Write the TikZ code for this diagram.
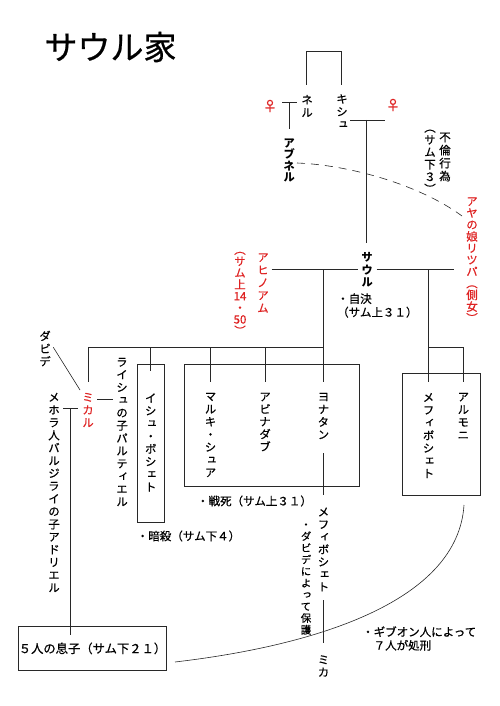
\documentclass[tikz,border=0pt]{standalone}
\usepackage{fontspec}
\newfontfamily\jp[FakeBold=0.6]{Noto Sans CJK JP}
\newfontfamily\jpv[RawFeature=+vert, FakeBold=0.6]{Noto Sans CJK JP}
\newfontfamily\jpvplain[RawFeature=+vert]{Noto Sans CJK JP}
\definecolor{kinred}{RGB}{222,34,34}
\definecolor{kinline}{RGB}{40,40,40}

\begin{document}
\begin{tikzpicture}[
        x=1pt, y=-1pt,
        vcol/.style={
            font=\jpv\fontsize{11.5}{#1}\selectfont,
            align=center,
            inner sep=0pt
        },
        vcol/.default=12.7,
        vbold/.style={
            vcol,
            font=\jpvplain\bfseries\fontsize{11.5}{#1}\selectfont
        },
        vbold/.default=12.5,
        wife/.style={text=kinred},
        note/.style={
            font=\jp\fontsize{11.5}{13.5}\selectfont,
            inner sep=0pt
        },
        venus/.style={
            font=\jp\fontsize{14}{14}\selectfont,
            text=kinred,
            inner sep=0pt
        },
        kin/.style={draw=kinline, line width=0.6pt},
        affair/.style={kin, dash pattern=on 8pt off 6pt}
    ]
    \useasboundingbox (0,0) rectangle (500,706);

    \node[font=\jp\fontsize{33}{33}\selectfont, inner sep=0pt] (title) at (110.5,47) {サウル家};

    % Saul's parents
    \node[vcol] (nel) at (307,106) {ネ\\ル};
    \node[vcol] (kish) at (342,111.5) {キ\\シ\\ュ};
    \node[venus] (wifeNel) at (270,106) {♀};
    \node[venus] (wifeKish) at (393,105) {♀};
    \node[vbold=11.3] (abner) at (289,160.5) {ア\\ブ\\ネ\\ル};
    \node[vbold] (saul) at (367,270) {サ\\ウ\\ル};

    \coordinate (gpL) at (306,85);
    \coordinate (gpR) at (341,85);
    \draw[kin] (gpL) -- ++(0,-34) -| (gpR);

    \coordinate (nelL) at (282,102.7);
    \coordinate (nelR) at (297,102.7);
    \coordinate (abnerTop) at (289.3,129.3);
    \draw[kin] (nelL) -- (nelR);
    \draw[kin] (abnerTop |- nelL) -- (abnerTop);

    \coordinate (kishL) at (350,120);
    \coordinate (kishR) at (385,120);
    \coordinate (saulTop) at (366.7,243);
    \draw[kin] (kishL) -- (kishR);
    \draw[kin, line width=1.1pt] (saulTop |- kishL) -- (saulTop);

    % Abner and Rizpah
    \coordinate (affairA) at (297,163);
    \coordinate (affairB) at (462,216);
    \draw[affair] (affairA) .. controls (350,165) and (420,185) .. (affairB);
    \node[vcol=13] (adultery) at (445,157) {不\\倫\\行\\為};
    \node[vcol=12.3] (adulteryRef) at (430,161.5) {（\\サ\\ム\\下\\３\\）};

    % Saul's wives
    \node[vcol, wife] (ahinoam) at (263,283) {ア\\ヒ\\ノ\\ア\\ム};
    \node[vcol=11.6, wife] (ahinoamRef) at (240,293.5) {（\\サ\\ム\\上\\14\\・\\50\\）};
    \node[vcol=11.7, wife] (rizpah) at (472,260) {ア\\ヤ\\の\\娘\\リ\\ツ\\パ\\（\\側\\女\\）};

    \coordinate (ahiEnd) at (271.7,269.3);
    \coordinate (saulGapL) at (358,269.3);
    \coordinate (saulGapR) at (376.7,269.3);
    \coordinate (rizEnd) at (454,269.3);
    \draw[kin] (ahiEnd) -- (saulGapL);
    \draw[kin] (saulGapR) -- (rizEnd);

    \node[note, align=left, anchor=west] (suicide) at (337,305.5) {・自決\\（サム上３１）};

    % children of Ahinoam
    \node[vcol, wife] (michal) at (88,410) {ミ\\カ\\ル};
    \node[vcol] (david) at (45,348.5) {ダ\\ビ\\デ};
    \node[vcol] (paltiel) at (122,432) {ラ\\イ\\シ\\ュ\\の\\子\\パ\\ル\\テ\\ィ\\エ\\ル};
    \node[vcol] (adriel) at (54,492.5) {メ\\ホ\\ラ\\人\\バ\\ル\\ジ\\ラ\\イ\\の\\子\\ア\\ド\\リ\\エ\\ル};
    \node[vcol] (ishbosheth) at (150.7,442.5) {イ\\シ\\ュ\\・\\ボ\\シ\\ェ\\ト};
    \node[vcol] (malchishua) at (210.5,435) {マ\\ル\\キ\\・\\シ\\ュ\\ア};
    \node[vcol=12.5] (abinadab) at (265,422) {ア\\ビ\\ナ\\ダ\\ブ};
    \node[vcol] (jonathan) at (323.5,416) {ヨ\\ナ\\タ\\ン};

    \coordinate (sibRow) at (88.3,347.3);
    \coordinate (michTop) at (88.3,381.7);
    \coordinate (ishTop) at (150.7,371);
    \coordinate (malTop) at (210.5,381.7);
    \coordinate (abiTop) at (265,381.7);
    \coordinate (jonTop) at (323.5,381.7);
    \draw[kin] (jonTop |- ahiEnd) -- (jonTop);
    \draw[kin] (sibRow) -- (jonTop |- sibRow);
    \foreach \top in {michTop, ishTop, malTop, abiTop}
        \draw[kin] (\top |- sibRow) -- (\top);

    \draw[kin] (137.3,364.3) rectangle (164,522.3);
    \draw[kin] (184,364.3) rectangle (359,486.7);
    \node[note] (killed) at (188.5,536) {・暗殺（サム下４）};
    \node[note] (fallen) at (254.5,501) {・戦死（サム上３１）};

    % Michal's husbands
    \coordinate (davidEnd) at (53.3,347.3);
    \coordinate (michalUp) at (80,390);
    \draw[kin] (davidEnd) -- (michalUp);
    \coordinate (paltL) at (97,399.3);
    \coordinate (paltR) at (113,399.3);
    \draw[kin] (paltL) -- (paltR);
    \coordinate (adrL) at (63.3,408.3);
    \coordinate (adrR) at (78.3,408.3);
    \coordinate (sonsIn) at (70.7,635);
    \draw[kin] (adrL) -- (adrR);
    \draw[kin] (sonsIn |- adrL) -- (sonsIn);

    \node[kin, draw, note, font=\jp\fontsize{12.3}{14}\selectfont,
        minimum width=148.4pt, minimum height=43.3pt] (sons) at (92.5,648.4)
        {５人の息子（サム下２１）};

    % Jonathan's son
    \node[vcol=12.5] (mephJ) at (323.5,549.5) {メ\\フ\\ィ\\ボ\\シ\\ェ\\ト};
    \node[vcol=12.5] (mica) at (323.5,666) {ミ\\カ};
    \node[vcol=11.7, font=\jpv\fontsize{10.5}{11.7}\selectfont] (protect) at (306,579)
        {・\\ダ\\ビ\\デ\\に\\よ\\っ\\て\\保\\護};
    \coordinate (jonLow) at (323.5,453);
    \coordinate (jonOut) at (323.5,495);
    \coordinate (micaUp) at (323.5,600);
    \coordinate (micaTop) at (323.5,643);
    \draw[kin] (jonLow) -- (jonOut);
    \draw[kin] (micaUp) -- (micaTop);

    % children of Rizpah
    \node[vcol] (mephR) at (428.5,435.5) {メ\\フ\\ィ\\ボ\\シ\\ェ\\ト};
    \node[vcol] (armoni) at (463.3,416) {ア\\ル\\モ\\ニ};
    \coordinate (mephTop) at (428.5,381.7);
    \coordinate (armTop) at (463.3,381.7);
    \draw[kin] (mephTop |- ahiEnd) -- (mephTop);
    \draw[kin] (mephTop |- sibRow) -| (armTop);
    \draw[kin] (402.3,373.3) rectangle (480.7,495.7);

    % Gibeonites
    \coordinate (gibA) at (464,505);
    \coordinate (gibB) at (175,662);
    \draw[kin] (gibA) .. controls (458,600) and (320,645) .. (gibB);
    \node[note, align=left, anchor=west] (gibeon) at (362,638.5)
        {・ギブオン人によって\\　７人が処刑};

\end{tikzpicture}
\end{document}
